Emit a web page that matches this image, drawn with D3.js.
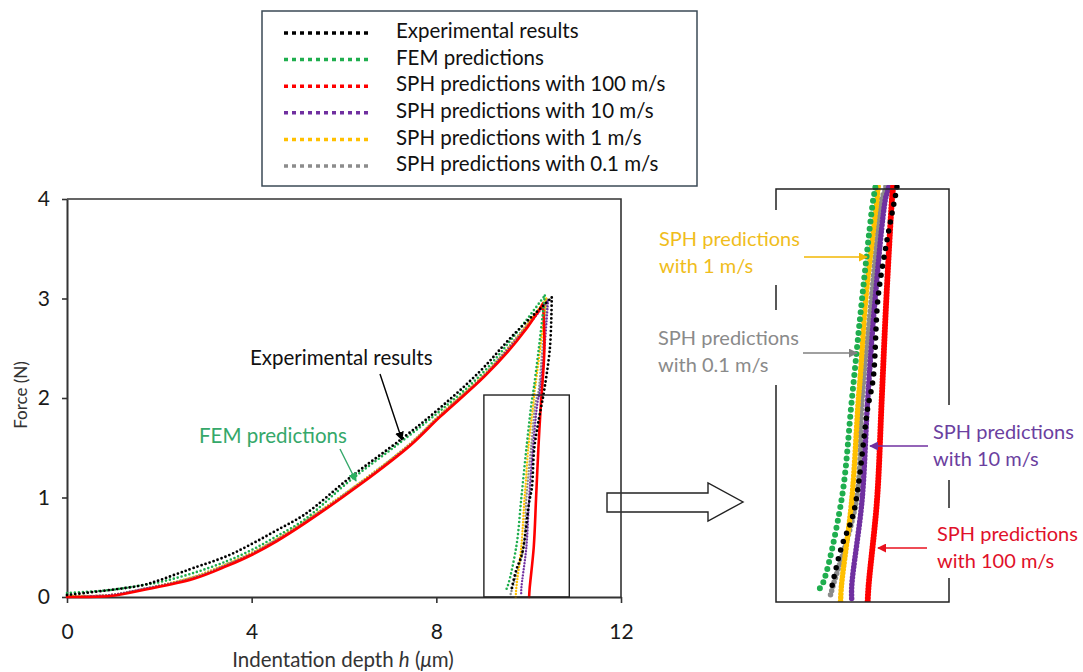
<!DOCTYPE html>
<html>
<head>
<meta charset="utf-8">
<script src="https://cdn.jsdelivr.net/npm/d3@7"></script>
<style>
  body { margin: 0; background: #fff; }
  svg { display: block; font-family: Lato, "Open Sans", sans-serif; }
</style>
</head>
<body>
<svg id="chart" width="1083" height="672"></svg>
<script>
// Force (N) against indentation depth h (µm): loading branch, peak, then unloading branch
const experimental = [
  [0.00, 0.02], [0.93, 0.07], [1.65, 0.12], [2.01, 0.17], [2.37, 0.23], [2.73, 0.29],
  [3.46, 0.41], [4.03, 0.54], [4.54, 0.67], [5.15, 0.83], [6.13, 1.20], [7.28, 1.60],
  [8.08, 1.90], [8.95, 2.27], [9.66, 2.63], [10.50, 3.01],
  [10.46, 2.50], [10.32, 2.03], [10.30, 1.98], [10.21, 1.76], [10.12, 1.49], [10.07, 1.10],
  [10.01, 0.95], [9.86, 0.44], [9.73, 0.27], [9.62, 0.06]
];
const femPred = [
  [0.00, 0.04], [0.93, 0.07], [1.65, 0.12], [2.01, 0.15], [2.73, 0.24], [3.46, 0.36],
  [4.03, 0.48], [4.54, 0.61], [5.15, 0.78], [6.13, 1.17], [7.21, 1.55], [8.08, 1.87],
  [9.00, 2.25], [9.66, 2.61], [10.35, 3.03],
  [10.22, 2.50], [10.09, 2.03], [10.07, 1.98], [9.95, 1.49], [9.84, 0.99], [9.73, 0.50],
  [9.52, 0.08], [9.48, 0.06]
];
const sph100 = [
  [0.00, 0.00], [0.93, 0.01], [1.65, 0.07], [2.73, 0.18], [3.46, 0.31], [4.03, 0.43],
  [4.54, 0.56], [5.15, 0.74], [6.35, 1.13], [7.43, 1.52], [8.08, 1.81], [9.05, 2.22],
  [9.74, 2.57], [10.21, 2.87], [10.31, 2.95],
  [10.34, 2.50], [10.28, 2.03], [10.27, 1.98], [10.21, 1.49], [10.16, 0.99], [10.11, 0.50],
  [10.02, 0.08], [10.01, 0.00]
];
const sph10 = [
  [0.00, 0.00], [0.93, 0.02], [1.65, 0.08], [2.73, 0.19], [3.46, 0.32], [4.03, 0.44],
  [4.54, 0.57], [5.15, 0.75], [6.35, 1.14], [7.43, 1.53], [8.08, 1.82], [9.05, 2.23],
  [9.74, 2.59], [10.42, 2.98],
  [10.34, 2.50], [10.23, 2.03], [10.20, 1.98], [10.09, 1.49], [10.01, 0.99], [9.95, 0.50],
  [9.84, 0.08], [9.84, 0.01]
];
const sph1 = [
  [0.00, 0.01], [0.93, 0.02], [1.65, 0.08], [2.73, 0.20], [3.46, 0.33], [4.03, 0.45],
  [4.54, 0.58], [5.15, 0.76], [6.35, 1.15], [7.43, 1.54], [8.08, 1.83], [9.05, 2.24],
  [9.74, 2.60], [10.38, 3.00],
  [10.25, 2.50], [10.12, 2.03], [10.11, 1.98], [9.99, 1.49], [9.93, 1.10], [9.91, 0.99],
  [9.84, 0.50], [9.73, 0.08], [9.72, 0.00]
];
const sph01 = [
  [0.00, 0.01], [0.93, 0.02], [1.65, 0.08], [2.73, 0.20], [3.46, 0.33], [4.03, 0.45],
  [4.54, 0.58], [5.15, 0.76], [6.35, 1.15], [7.43, 1.54], [8.08, 1.83], [9.05, 2.24],
  [9.74, 2.61], [10.40, 2.99],
  [10.30, 2.50], [10.20, 2.03], [10.16, 1.98], [10.05, 1.49], [9.95, 0.99], [9.89, 0.50],
  [9.64, 0.08], [9.61, 0.03]
];

const legendLabels = [
  "Experimental results", "FEM predictions", "SPH predictions with 100 m/s",
  "SPH predictions with 10 m/s", "SPH predictions with 1 m/s", "SPH predictions with 0.1 m/s"
];
const xTicks = [0, 4, 8, 12];
const yTicks = [0, 1, 2, 3, 4];
// window of the main plot that is enlarged on the right
const zoomDepth = [9.03, 10.88];
const zoomForce = [0, 2.03];

const series = [
  { key: "sph01", data: sph01, color: "#8c8c8c", label: legendLabels[5], dash: "0 3.2", w: 2.4, zdash: "0 4.5", zw: 5.5 },
  { key: "sph1", data: sph1, color: "#ffc000", label: legendLabels[4], dash: "0 3", w: 2.4, zdash: "0 3.5", zw: 5.5 },
  { key: "sph10", data: sph10, color: "#7030a0", label: legendLabels[3], dash: "0 3", w: 2.4, zdash: "0 3.5", zw: 5.5 },
  { key: "sph100", data: sph100, color: "#ff0000", label: legendLabels[2], dash: null, w: 2.6, zdash: "0 3", zw: 6 },
  { key: "fem", data: femPred, color: "#1fae4e", label: legendLabels[1], dash: "0 4", w: 2.6, zdash: "0 7", zw: 6 },
  { key: "exp", data: experimental, color: "#000000", label: legendLabels[0], dash: "0 4.2", w: 2.8, zdash: "0 9", zw: 5.5 }
];
const legendOrder = ["exp", "fem", "sph100", "sph10", "sph1", "sph01"];

// a curve is drawn as its loading branch and its unloading branch, split at peak force
function branches(data) {
  const iPeak = d3.maxIndex(data, d => d[1]);
  return [data.slice(0, iPeak + 1), data.slice(iPeak)];
}

const svg = d3.select("#chart");
const axisColor = "#333";

// ---- main plot ----
const x = d3.scaleLinear().domain([0, 12]).range([67, 621]);
const y = d3.scaleLinear().domain([0, 4]).range([597, 199]);

const line = d3.line().x(d => x(d[0])).y(d => y(d[1])).curve(d3.curveCatmullRom.alpha(0.5));
const branchPath = (data, ln) => branches(data).map(b => ln(b)).join("");

// hollow arrow pointing at the enlarged view (under the plot frame)
svg.append("path")
  .attr("d", "M607,493H708V483L743,502L708,521V512H607Z")
  .attr("fill", "#fff").attr("stroke", "#222").attr("stroke-width", 1.4);

// plot frame (top and right edges)
svg.append("path")
  .attr("d", `M${x(0)},${y(4)}H${x(12)}V${y(0)}`)
  .attr("fill", "none").attr("stroke", axisColor).attr("stroke-width", 1.6);

const gx = svg.append("g").attr("transform", `translate(0,${y(0)})`)
  .call(d3.axisBottom(x).tickValues(xTicks).tickFormat(d3.format("d"))
    .tickSize(6).tickSizeOuter(0).tickPadding(21));
const gy = svg.append("g").attr("transform", `translate(${x(0)},0)`)
  .call(d3.axisLeft(y).tickValues(yTicks).tickFormat(d3.format("d"))
    .tickSize(5).tickSizeOuter(0).tickPadding(12));
[gx, gy].forEach(g => {
  g.select(".domain").attr("stroke", axisColor).attr("stroke-width", 2);
  g.selectAll(".tick line").attr("stroke", axisColor).attr("stroke-width", 1.6);
  g.selectAll(".tick text").attr("fill", "#1a1a1a").style("font-size", "21px").style("font-family", "Lato, sans-serif");
});

svg.append("g").selectAll("path").data(series).join("path")
  .attr("d", d => branchPath(d.data, line))
  .attr("fill", "none")
  .attr("stroke", d => d.color)
  .attr("stroke-width", d => d.w)
  .attr("stroke-linecap", "round")
  .attr("stroke-linejoin", "round")
  .attr("stroke-dasharray", d => d.dash);

// rectangle marking the enlarged window
svg.append("rect")
  .attr("x", x(zoomDepth[0])).attr("y", y(zoomForce[1]))
  .attr("width", x(zoomDepth[1]) - x(zoomDepth[0]))
  .attr("height", y(zoomForce[0]) - y(zoomForce[1]))
  .attr("fill", "none").attr("stroke", "#222").attr("stroke-width", 1.4);

// axis titles
const xt = svg.append("text").attr("x", 343).attr("y", 667).attr("text-anchor", "middle")
  .style("font-size", "20.5px").attr("fill", "#333");
xt.append("tspan").text("Indentation depth ");
xt.append("tspan").attr("font-style", "italic").text("h");
xt.append("tspan").text(" (");
xt.append("tspan").attr("font-style", "italic").text("μ");
xt.append("tspan").text("m)");

svg.append("text").attr("transform", "translate(27,395) rotate(-90)")
  .attr("text-anchor", "middle").style("font-size", "17px").attr("fill", "#333")
  .text("Force (N)");

// arrow heads
const defs = svg.append("defs");
function head(id, color) {
  defs.append("marker").attr("id", id)
    .attr("viewBox", "0 0 10 10").attr("refX", 9).attr("refY", 5)
    .attr("markerWidth", 9).attr("markerHeight", 9).attr("markerUnits", "userSpaceOnUse")
    .attr("orient", "auto")
    .append("path").attr("d", "M0,0L10,5L0,10Z").attr("fill", color);
}
head("hBlack", "#000");
head("hGreen", "#2bb060");
head("hYellow", "#f2b705");
head("hGray", "#808080");
head("hPurple", "#7030a0");
head("hRed", "#e8101e");

// callouts in the main plot
svg.append("text").attr("x", 250).attr("y", 365).style("font-size", "20.5px").attr("fill", "#111")
  .text("Experimental results");
svg.append("line").attr("x1", 380).attr("y1", 374).attr("x2", 402).attr("y2", 440)
  .attr("stroke", "#000").attr("stroke-width", 1.4).attr("marker-end", "url(#hBlack)");
svg.append("text").attr("x", 199).attr("y", 443).style("font-size", "20.5px").attr("fill", "#35a86a")
  .text("FEM predictions");
svg.append("line").attr("x1", 340).attr("y1", 449).attr("x2", 356).attr("y2", 481)
  .attr("stroke", "#35a86a").attr("stroke-width", 1.4).attr("marker-end", "url(#hGreen)");

// ---- enlarged view ----
const xz = d3.scaleLinear().domain(zoomDepth).range([776, 949]);
const yz = d3.scaleLinear().domain(zoomForce).range([602, 189]);
const lineZ = d3.line().x(d => xz(d[0])).y(d => yz(d[1])).curve(d3.curveCatmullRom.alpha(0.5));

defs.append("clipPath").attr("id", "zoomClip")
  .append("rect").attr("x", 776).attr("y", 185).attr("width", 173).attr("height", 417);

svg.append("g").attr("clip-path", "url(#zoomClip)")
  .selectAll("path").data(series).join("path")
  .attr("d", d => branchPath(d.data, lineZ))
  .attr("fill", "none")
  .attr("stroke", d => d.color)
  .attr("stroke-width", d => d.zw)
  .attr("stroke-linecap", "round")
  .attr("stroke-dasharray", d => d.zdash);

svg.append("rect").attr("x", 776).attr("y", 189).attr("width", 173).attr("height", 413)
  .attr("fill", "none").attr("stroke", "#222").attr("stroke-width", 1.5);

// text boxes with the series names, on white backgrounds over the frame
const callouts = [
  { lines: ["SPH predictions", "with 1 m/s"], color: "#f0bd1c", box: [650, 210, 155, 75], tx: 659, ty: 246, ax: [804, 257, 867, 257], marker: "hYellow", acolor: "#f2b705" },
  { lines: ["SPH predictions", "with 0.1 m/s"], color: "#8a8a8a", box: [650, 310, 155, 75], tx: 658, ty: 345, ax: [803, 353, 857, 353], marker: "hGray", acolor: "#808080" },
  { lines: ["SPH predictions", "with 10 m/s"], color: "#6b3fa0", box: [927, 405, 156, 75], tx: 933, ty: 439, ax: [928, 446, 870, 446], marker: "hPurple", acolor: "#7030a0" },
  { lines: ["SPH predictions", "with 100 m/s"], color: "#e0102a", box: [927, 508, 156, 70], tx: 937, ty: 541, ax: [927, 548, 878, 548], marker: "hRed", acolor: "#e8101e" }
];
callouts.forEach(c => {
  svg.append("rect").attr("x", c.box[0]).attr("y", c.box[1]).attr("width", c.box[2]).attr("height", c.box[3])
    .attr("fill", "#fff");
  const t = svg.append("text").attr("x", c.tx).attr("y", c.ty).style("font-size", "20px").attr("fill", c.color);
  c.lines.forEach((s, i) => t.append("tspan").attr("x", c.tx).attr("dy", i ? 27 : 0).text(s));
  svg.append("line").attr("x1", c.ax[0]).attr("y1", c.ax[1]).attr("x2", c.ax[2]).attr("y2", c.ax[3])
    .attr("stroke", c.acolor).attr("stroke-width", 1.6).attr("marker-end", `url(#${c.marker})`);
});

// ---- legend ----
const legend = svg.append("g");
legend.append("rect").attr("x", 262).attr("y", 11).attr("width", 435).attr("height", 175)
  .attr("fill", "#fff").attr("stroke", "#3b4a56").attr("stroke-width", 1.5);
const rowY = d3.scalePoint().domain(legendOrder).range([31, 164]);
const byKey = Object.fromEntries(series.map(s => [s.key, s]));
legendOrder.forEach(k => {
  const s = byKey[k];
  legend.append("line").attr("x1", 284).attr("x2", 372).attr("y1", rowY(k) + 2).attr("y2", rowY(k) + 2)
    .attr("stroke", s.color).attr("stroke-width", 3.5).attr("stroke-dasharray", "4 4");
  legend.append("text").attr("x", 396).attr("y", rowY(k)).attr("dy", "0.35em")
    .style("font-size", "20.5px").attr("fill", "#111").text(s.label);
});
</script>
</body>
</html>
